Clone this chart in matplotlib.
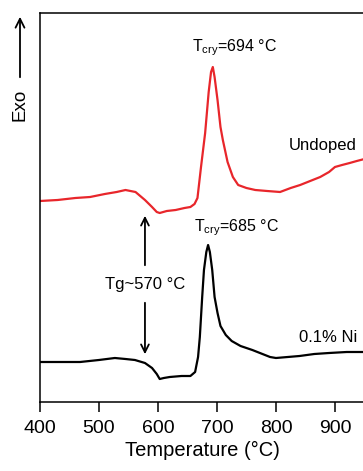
import matplotlib
matplotlib.use("Agg")
import matplotlib.pyplot as plt
import numpy as np

plt.rcParams['font.family'] = ['Liberation Sans', 'DejaVu Sans']
plt.rcParams['mathtext.fontset'] = 'custom'
plt.rcParams['mathtext.rm'] = 'Liberation Sans'
plt.rcParams['mathtext.it'] = 'Liberation Sans'

# DSC curves (temperature in C, signal in arbitrary units)
temp_undoped = [400, 430, 460, 485, 510, 530, 545, 562, 578, 590, 598, 603, 615, 630,
                645, 655, 662, 667, 673, 680, 686, 690, 693, 696, 701, 706, 710, 718,
                727, 736, 750, 765, 785, 807, 825, 841, 858, 875, 890, 900, 912, 925, 937, 950]
sig_undoped = [201, 202, 204, 205, 208, 210, 212, 210, 202, 195, 190, 189, 191, 192,
               194, 195, 198, 204, 235, 269, 310, 330, 335, 325, 302, 275, 262, 240,
               225, 217, 214, 212, 211, 210, 214, 217, 221, 225, 230, 235, 237, 239, 241, 243]

temp_ni = [400, 435, 468, 500, 527, 545, 561, 578, 590, 598, 603, 610, 620, 640,
           655, 663, 668, 671, 675, 678, 682, 685, 688, 692, 696, 701, 706, 715,
           725, 740, 760, 790, 800, 820, 840, 865, 890, 920, 950]
sig_ni = [40, 40, 40, 42, 44, 43, 42, 39, 34, 28, 23, 24, 25, 26,
          26, 30, 45, 65, 105, 132, 150, 157, 150, 132, 105, 89, 76, 67,
          61, 56, 52, 45, 44, 45, 46, 48, 49, 50, 50]

x_ticks = [400, 500, 600, 700, 800, 900]

fig = plt.figure(figsize=(3.63, 4.71), dpi=100)
ax = fig.add_axes([0.110, 0.1465, 0.894, 0.8259])

ax.plot(temp_undoped, sig_undoped, color='#e8262b', lw=1.6)
ax.plot(temp_ni, sig_ni, color='black', lw=1.6)

ax.set_xlim(400, 950)
ax.set_ylim(0, 389)
ax.set_xticks(x_ticks)
ax.set_yticks([])
ax.spines['right'].set_visible(False)
for s in ['left', 'bottom', 'top']:
    ax.spines[s].set_linewidth(1.1)
ax.tick_params(axis='x', direction='out', length=7, width=1.1, labelsize=14, pad=6)
ax.set_xlabel('Temperature (°C)', fontsize=14.5, labelpad=3)

# annotations
ax.text(730, 354, 'T$_{cry}$=694 °C', fontsize=11.5, ha='center', va='center')
ax.text(733, 174, 'T$_{cry}$=685 °C', fontsize=11.5, ha='center', va='center')
ax.text(880, 256, 'Undoped', fontsize=12, ha='center', va='center')
ax.text(889, 64, '0.1% Ni', fontsize=12, ha='center', va='center')
ax.text(578, 117, 'Tg~570 °C', fontsize=12, ha='center', va='center')

ax.annotate('', xy=(578, 189), xytext=(578, 134),
            arrowprops=dict(arrowstyle='->', lw=1.3, color='black', mutation_scale=14))
ax.annotate('', xy=(578, 45), xytext=(578, 102),
            arrowprops=dict(arrowstyle='->', lw=1.3, color='black', mutation_scale=14))

# Exo arrow at the left of the axis
fig.patches.append(matplotlib.patches.FancyArrowPatch(
    (20 / 363, 1 - 80 / 471), (20 / 363, 1 - 14 / 471), transform=fig.transFigure,
    arrowstyle='->', lw=1.3, color='black', mutation_scale=16))
fig.text(20 / 363, 1 - 105 / 471, 'Exo', rotation=90, fontsize=13.5,
         ha='center', va='center')

fig.savefig('out.png', dpi=100)
